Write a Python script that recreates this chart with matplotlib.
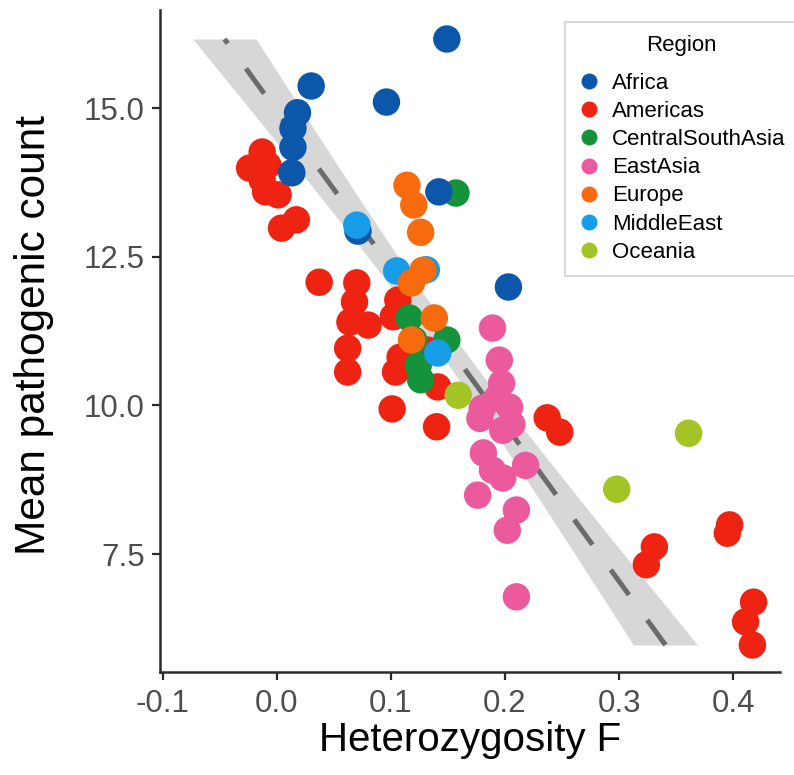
import numpy as np
import matplotlib
matplotlib.use("Agg")
import matplotlib.pyplot as plt
from matplotlib.lines import Line2D

plt.rcParams["font.family"] = ["Liberation Sans", "DejaVu Sans"]

# Heterozygosity F (x) and mean pathogenic count (y) per population, by region
africa_x = [0.149, 0.030, 0.096, 0.018, 0.014, 0.014, 0.013, 0.142, 0.203, 0.071]
africa_y = [16.16, 15.37, 15.10, 14.92, 14.66, 14.34, 13.91, 13.59, 11.99, 12.93]

americas_x = [-0.013, -0.024, -0.008, -0.013, -0.010, 0.001, 0.004, 0.017,
              0.037, 0.070, 0.068, 0.064, 0.080, 0.062, 0.062, 0.106, 0.102,
              0.108, 0.104, 0.132, 0.141, 0.101, 0.140, 0.237, 0.248, 0.397,
              0.395, 0.331, 0.324, 0.418, 0.411, 0.417]
americas_y = [14.26, 13.99, 14.04, 13.79, 13.59, 13.54, 12.98, 13.12,
              12.07, 12.06, 11.74, 11.40, 11.35, 10.96, 10.56, 11.77, 11.49,
              10.81, 10.56, 10.93, 10.31, 9.94, 9.64, 9.79, 9.55, 7.99,
              7.85, 7.62, 7.32, 6.69, 6.36, 5.97]

csa_x = [0.116, 0.120, 0.149, 0.124, 0.126, 0.157]
csa_y = [11.47, 11.10, 11.10, 10.68, 10.43, 13.57]

eastasia_x = [0.189, 0.195, 0.197, 0.193, 0.180, 0.178, 0.204, 0.206, 0.198,
              0.181, 0.189, 0.218, 0.198, 0.176, 0.210, 0.202, 0.210]
eastasia_y = [11.30, 10.76, 10.37, 10.12, 9.95, 9.78, 9.97, 9.68, 9.58,
              9.20, 8.91, 8.99, 8.78, 8.49, 8.24, 7.90, 6.78]

europe_x = [0.114, 0.120, 0.126, 0.128, 0.118, 0.138, 0.118]
europe_y = [13.70, 13.37, 12.91, 12.27, 12.06, 11.47, 11.10]

middleeast_x = [0.070, 0.105, 0.131, 0.141]
middleeast_y = [13.03, 12.26, 12.28, 10.88]

oceania_x = [0.159, 0.298, 0.361]
oceania_y = [10.17, 8.59, 9.53]

regions = ["Africa", "Americas", "CentralSouthAsia", "EastAsia",
           "Europe", "MiddleEast", "Oceania"]
region_colors = ["#0c57aa", "#ee2311", "#15933b", "#ec5a9e",
                 "#f76b0e", "#179ce8", "#a3c425"]
region_data = {
    "Africa": (africa_x, africa_y),
    "Americas": (americas_x, americas_y),
    "CentralSouthAsia": (csa_x, csa_y),
    "EastAsia": (eastasia_x, eastasia_y),
    "Europe": (europe_x, europe_y),
    "MiddleEast": (middleeast_x, middleeast_y),
    "Oceania": (oceania_x, oceania_y),
}
draw_order = ["Americas", "CentralSouthAsia", "Africa", "MiddleEast",
              "Europe", "EastAsia", "Oceania"]

x_ticks = [-0.1, 0.0, 0.1, 0.2, 0.3, 0.4]
y_ticks = [7.5, 10.0, 12.5, 15.0]

fig = plt.figure(figsize=(7.94, 7.75), dpi=100)
ax = fig.add_axes([160 / 794, 103 / 775, 620 / 794, 662 / 775])

# Linear fit of heterozygosity on pathogenic count, with confidence band
all_x = np.concatenate([np.asarray(region_data[r][0]) for r in regions])
all_y = np.concatenate([np.asarray(region_data[r][1]) for r in regions])
n = len(all_x)
slope, intercept = np.polyfit(all_y, all_x, 1)
resid = all_x - (intercept + slope * all_y)
s = np.sqrt(np.sum(resid ** 2) / (n - 2))
y_mean = all_y.mean()
sxx = np.sum((all_y - y_mean) ** 2)
CI_MULT = 1.62
yy = np.linspace(all_y.min(), all_y.max(), 200)
xx = intercept + slope * yy
half = CI_MULT * s * np.sqrt(1.0 / n + (yy - y_mean) ** 2 / sxx)
ax.fill_betweenx(yy, xx - half, xx + half, color="#d7d7d7", lw=0, zorder=1)
ax.plot(xx, yy, color="#6b6b6b", lw=3.6, ls=(0, (6.2, 6.2)),
        dash_capstyle="butt", zorder=2)

for r in draw_order:
    xs, ys = region_data[r]
    ax.scatter(xs, ys, s=390, color=region_colors[regions.index(r)],
               edgecolors="none", zorder=3)

ax.set_xlim(-0.1026, 0.4412)
ax.set_ylim(5.516, 16.648)
ax.set_xticks(x_ticks)
ax.set_xticklabels(["-0.1", "0.0", "0.1", "0.2", "0.3", "0.4"])
ax.set_yticks(y_ticks)
ax.set_yticklabels(["7.5", "10.0", "12.5", "15.0"])

for side in ["top", "right"]:
    ax.spines[side].set_visible(False)
for side in ["left", "bottom"]:
    ax.spines[side].set_color("#2b2b2b")
    ax.spines[side].set_linewidth(1.8)
ax.tick_params(axis="both", length=6, width=1.6, color="#2b2b2b",
               labelsize=22.5, labelcolor="#4d4d4d")
ax.tick_params(axis="x", pad=6)
ax.tick_params(axis="y", pad=5)

ax.set_xlabel("Heterozygosity F", fontsize=29, labelpad=2)
ax.set_ylabel("Mean pathogenic count", fontsize=30.5)
ax.yaxis.set_label_coords(-0.171, 0.509)

handles = [Line2D([], [], marker="o", ls="none", markersize=11.5,
                  markerfacecolor=c, markeredgecolor="none")
           for c in region_colors]
leg = fig.legend(handles, regions, title="Region",
                 loc="upper left", bbox_to_anchor=(565 / 794, 1 - 22 / 775),
                 fontsize=16, title_fontsize=16, frameon=True,
                 fancybox=False, borderpad=0.6, labelspacing=0.32,
                 handletextpad=0.5, handlelength=1.0, borderaxespad=0)
leg._legend_box.sep = 12
leg.get_frame().set_edgecolor("#cfcfcf")
leg.get_frame().set_linewidth(1.5)

fig.savefig("out.png", dpi=100)
